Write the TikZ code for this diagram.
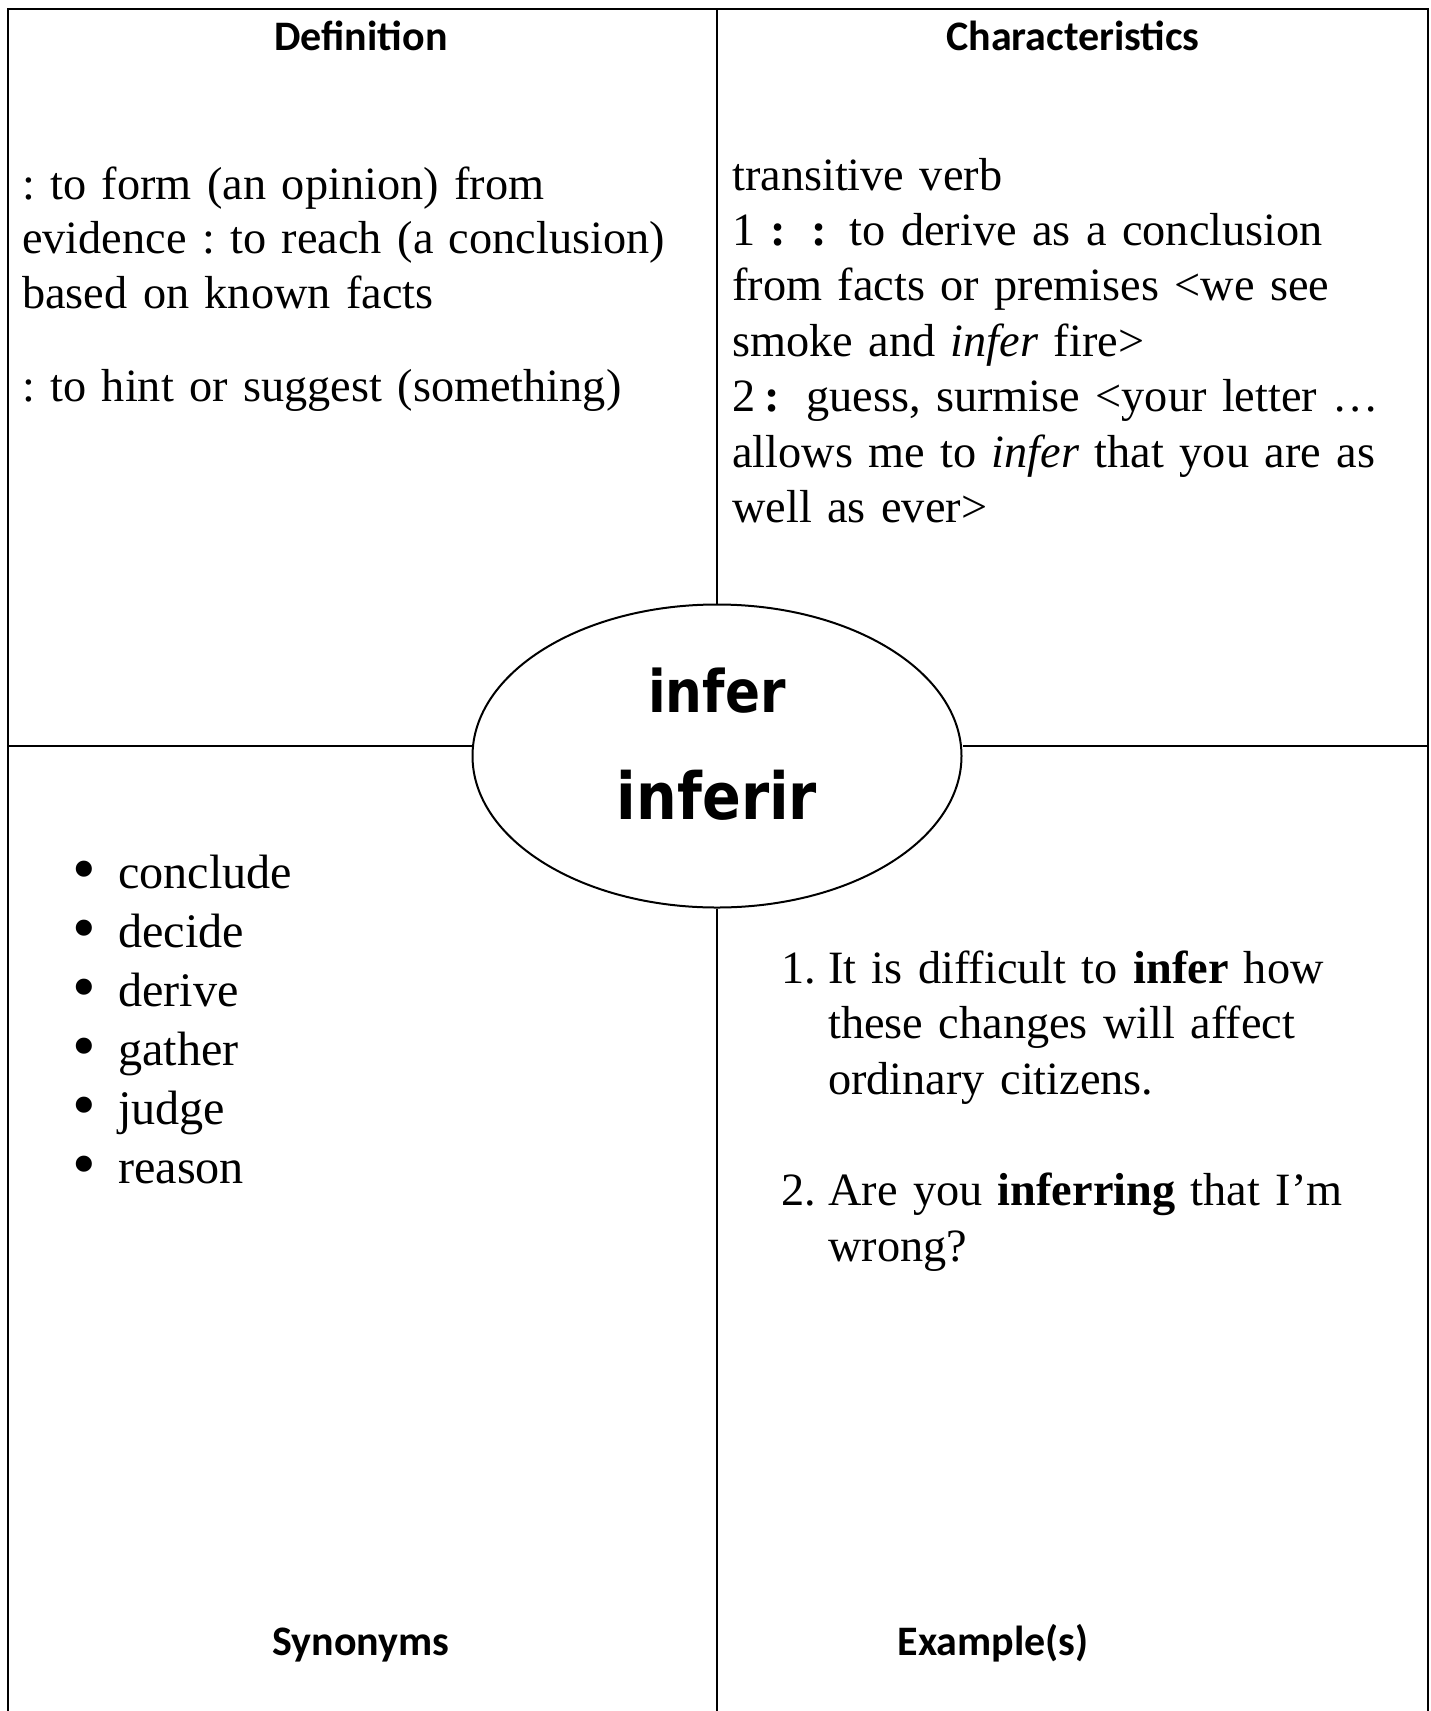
\documentclass[tikz,border=0pt]{standalone}
\usepackage{fontspec}
\setmainfont{Liberation Serif}
\newfontfamily\headfont{Carlito}
\newfontfamily\wordfont[FakeStretch=0.88]{DejaVu Sans}
\usetikzlibrary{shapes.geometric}
\frenchspacing

\begin{document}
\begin{tikzpicture}[x=1pt,y=-1pt,
    frame/.style={line width=2pt, black},
    head/.style={font=\headfont\bfseries\fontsize{42}{50}\selectfont, inner sep=0pt, anchor=base},
    body/.style={font=\fontsize{46.3}{55.4}\selectfont, text width=700pt, align=left, inner sep=0pt, anchor=base west},
    hubnode/.style={ellipse, draw, line width=2pt, minimum width=489pt, minimum height=303pt, inner sep=0pt},
    word/.style={inner sep=0pt, anchor=base}
    ]
    \useasboundingbox (0,0) rectangle (1431,1711);

    % frame
    \coordinate (tl) at (8,9);
    \coordinate (tr) at (1428,9);
    \coordinate (bl) at (8,1711);
    \coordinate (br) at (1428,1711);
    \coordinate (tm) at (717,9);
    \coordinate (bm) at (717,1711);
    \coordinate (ml) at (8,746);
    \coordinate (mr) at (1428,746);

    \node [hubnode] (hub) at (717,756) {};

    \draw [frame] (bl) -- (tl) -- (tr) -- (br);
    \draw [frame] (tm) edge (hub.north);
    \draw [frame] (hub.south) edge (bm);
    \draw [frame] (ml) edge (ml -| hub.west);
    \draw [frame] (mr -| hub.east) edge (mr);

    % headings
    \node [head] (defhead) at (361,50) {Definition};
    \node [head] (charhead) at (1073,50) {Characteristics};
    \node [head] (synhead) at (361,1655) {Synonyms};
    \node [head] (exhead) at (993,1655) {Example(s)};

    % centre word
    \node [word, font=\wordfont\bfseries\fontsize{58.7}{60}\selectfont] (en) at (717,712) {infer};
    \node [word, font=\wordfont\bfseries\fontsize{65}{66}\selectfont] (es) at (717,819) {inferir};

    % quadrants
    \node [body, font=\fontsize{46.3}{54.6}\selectfont] (deftext) at (22,199) {: to form (an opinion) from\\
        evidence : to reach (a conclusion)\\
        based on known facts\par\vspace{39pt}
        : to hint or suggest (something)};

    \node [body] (chartext) at (732,190) {transitive verb\\
        1 \textbf{:}\hspace{25pt}\textbf{:}\hspace{23pt}to derive as a conclusion\\
        from facts or premises \textless we see\\
        smoke and \textit{infer} fire\textgreater\\
        2\hspace{9.5pt}\textbf{:}\hspace{26pt}guess, surmise \textless your letter \ldots\\
        allows me to \textit{infer} that you are as\\
        well as ever\textgreater};

    \node [body, font=\fontsize{48.2}{59}\selectfont] (syntext) at (72,888) {%
        \makebox[46pt][l]{\raisebox{-3pt}{\scalebox{1.4}{\textbullet}}}conclude\\
        \makebox[46pt][l]{\raisebox{-3pt}{\scalebox{1.4}{\textbullet}}}decide\\
        \makebox[46pt][l]{\raisebox{-3pt}{\scalebox{1.4}{\textbullet}}}derive\\
        \makebox[46pt][l]{\raisebox{-3pt}{\scalebox{1.4}{\textbullet}}}gather\\
        \makebox[46pt][l]{\raisebox{-3pt}{\scalebox{1.4}{\textbullet}}}judge\\
        \makebox[46pt][l]{\raisebox{-3pt}{\scalebox{1.4}{\textbullet}}}reason};

    \node [body, font=\fontsize{46.3}{55.7}\selectfont] (extext) at (781,983) {%
        \makebox[47pt][l]{1.}It is difficult to \textbf{infer} how\\
        \hspace*{47pt}these changes will affect\\
        \hspace*{47pt}ordinary citizens.\\[55.7pt]
        \makebox[47pt][l]{2.}Are you \textbf{inferring} that I’m\\
        \hspace*{47pt}wrong?};
\end{tikzpicture}
\end{document}
